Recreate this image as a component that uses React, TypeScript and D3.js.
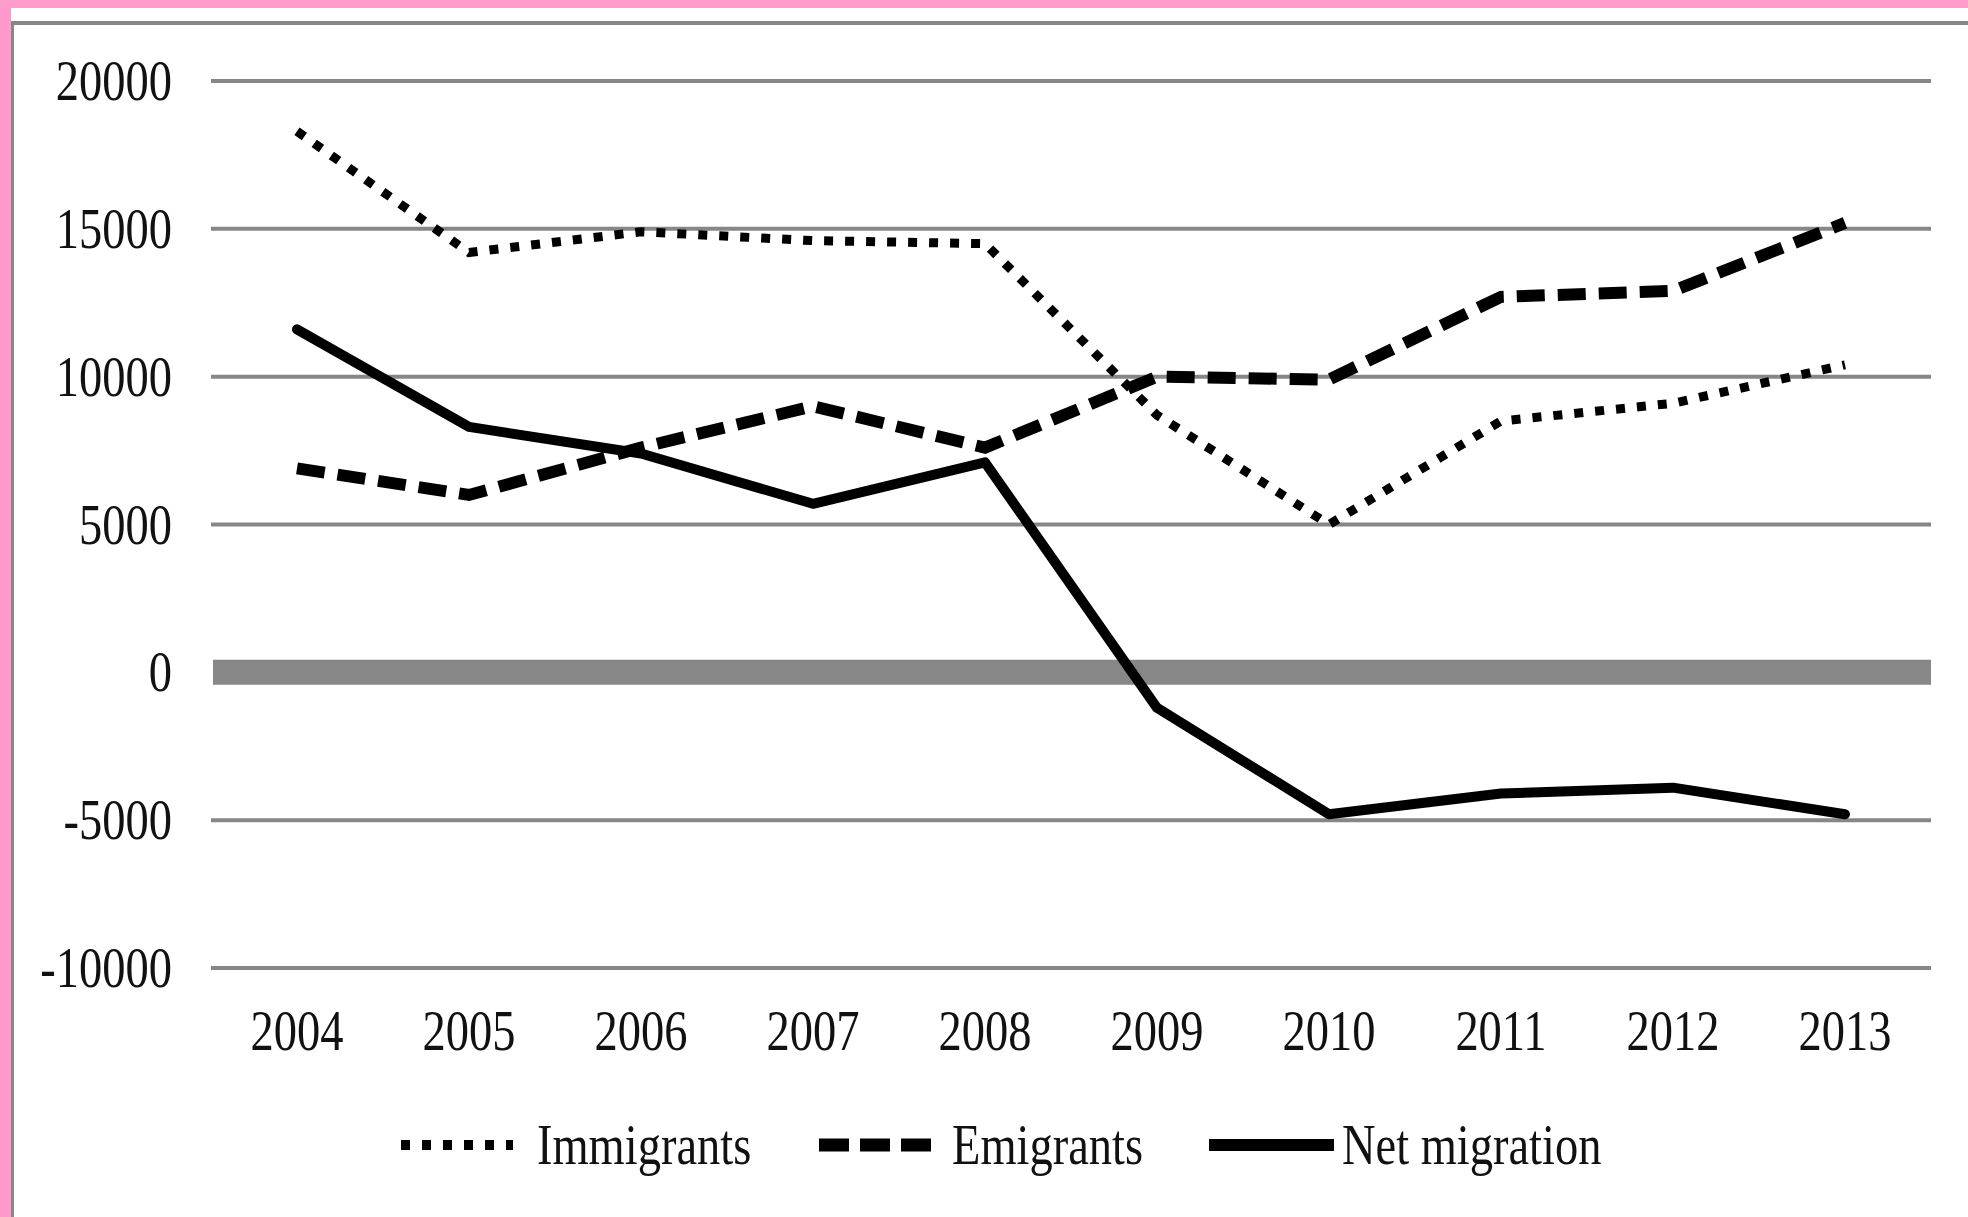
import React from 'react';
import * as d3 from 'd3';

// Migration flows by year
const years = ['2004', '2005', '2006', '2007', '2008', '2009', '2010', '2011', '2012', '2013'];
const immigrants = [18300, 14200, 14900, 14600, 14500, 8700, 5000, 8500, 9100, 10400];
const emigrants = [6900, 6000, 7600, 9000, 7600, 10000, 9900, 12700, 12900, 15200];
const netMigration = [11600, 8300, 7400, 5700, 7100, -1200, -4800, -4100, -3900, -4800];
const yTicks = [-10000, -5000, 0, 5000, 10000, 15000, 20000];
const legendLabels = ['Immigrants', 'Emigrants', 'Net migration'];

const W = 1968;
const H = 1217;
const FONT = '"Liberation Serif", "Times New Roman", serif';
const SX = 0.83; // horizontally condensed lettering
const GRID = '#878787';
const PINK = '#FF9BCB';

export default function App() {
  const x = d3.scaleBand<string>().domain(years).range([211, 1931]);
  const cx = (yr: string) => (x(yr) as number) + x.bandwidth() / 2;
  const y = d3.scaleLinear().domain([-10000, 20000]).range([968, 81]);

  const line = d3
    .line<number>()
    .x((_, i) => cx(years[i]))
    .y((v) => y(v));

  const series = [
    { values: immigrants, width: 9, dash: '9 12', cap: 'butt', join: 'miter' },
    { values: emigrants, width: 12, dash: '28 13', cap: 'butt', join: 'miter' },
    { values: netMigration, width: 10, dash: undefined, cap: 'round', join: 'round' },
  ];

  const legend = [
    { x1: 401, x2: 513, width: 10, dash: '9 12', tx: 537 },
    { x1: 819, x2: 931, width: 13, dash: '30 11', tx: 952 },
    { x1: 1209, x2: 1334, width: 12, dash: undefined, tx: 1342 },
  ];

  return (
    <svg
      width={W}
      height={H}
      viewBox={`0 0 ${W} ${H}`}
      style={{ position: 'absolute', left: 0, top: 0, display: 'block', background: '#fff' }}
    >
      <rect x={0} y={0} width={W} height={H} fill="#fff" />
      {/* frame */}
      <rect x={0} y={0} width={W} height={8} fill={PINK} />
      <rect x={0} y={0} width={11} height={H} fill={PINK} />
      <rect x={11} y={21} width={W - 11} height={4} fill={GRID} />
      <rect x={11} y={21} width={3} height={H - 21} fill={GRID} />

      {/* gridlines */}
      {yTicks.map((t) =>
        t === 0 ? (
          <line key={t} x1={213} x2={1931} y1={y(t)} y2={y(t)} stroke={GRID} strokeWidth={25} />
        ) : (
          <line key={t} x1={211} x2={1931} y1={y(t)} y2={y(t)} stroke={GRID} strokeWidth={4} />
        )
      )}

      {/* y-axis labels */}
      {yTicks.map((t) => (
        <text
          key={'yl' + t}
          transform={`translate(172, ${y(t) + 19}) scale(${SX}, 1)`}
          textAnchor="end"
          fontFamily={FONT}
          fontSize={56}
          fill="#111"
        >
          {String(t)}
        </text>
      ))}

      {/* x-axis labels */}
      {years.map((yr) => (
        <text
          key={'xl' + yr}
          transform={`translate(${cx(yr)}, 1050) scale(${SX}, 1)`}
          textAnchor="middle"
          fontFamily={FONT}
          fontSize={56}
          fill="#111"
        >
          {yr}
        </text>
      ))}

      {/* series */}
      {series.map((s, i) => (
        <path
          key={'s' + i}
          d={line(s.values) as string}
          fill="none"
          stroke="#000"
          strokeWidth={s.width}
          strokeDasharray={s.dash}
          strokeLinecap={s.cap as any}
          strokeLinejoin={s.join as any}
        />
      ))}

      {/* legend */}
      {legend.map((l, i) => (
        <g key={'lg' + i}>
          <line
            x1={l.x1}
            x2={l.x2}
            y1={1145}
            y2={1145}
            stroke="#000"
            strokeWidth={l.width}
            strokeDasharray={l.dash}
          />
          <text
            transform={`translate(${l.tx}, 1164) scale(${SX}, 1)`}
            fontFamily={FONT}
            fontSize={56}
            fill="#111"
          >
            {legendLabels[i]}
          </text>
        </g>
      ))}
    </svg>
  );
}
